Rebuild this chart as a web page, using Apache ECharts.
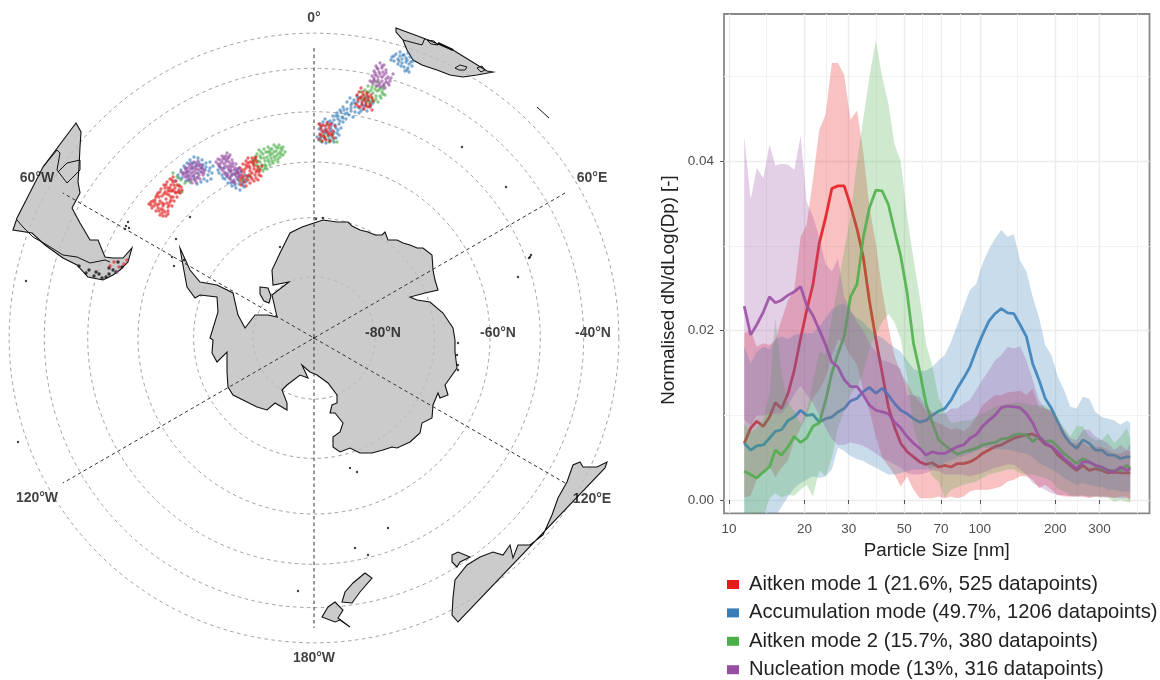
<!DOCTYPE html>
<html><head><meta charset="utf-8">
<style>html,body{margin:0;padding:0;background:#fff}#c{width:1160px;height:680px}</style>
<script src="https://cdn.jsdelivr.net/npm/echarts@6/dist/echarts.min.js"></script>
</head><body><div id="c"></div>
<script>
// ---------- size distribution panel ----------
const sizes=[11.5,12.2,12.9,13.7,14.5,15.3,16.2,17.2,18.2,19.3,20.4,21.6,22.9,24.3,25.7,27.2,28.8,30.5,32.4,34.3,36.3,38.5,40.8,43.2,45.7,48.4,51.3,54.4,57.6,61,64.6,68.5,72.5,76.8,81.4,86.2,91.3,96.7,102.5,108.6,115,121.8,129,136.7,144.8,153.4,162.5,172.1,182.3,193.2,204.6,216.7,229.6,243.2,257.6,272.9,289,306.2,324.4,343.6,364,385.6,398];
const ait1Mean=[.0067,.0085,.0093,.0087,.0098,.0115,.0108,.0126,.0153,.0191,.0224,.0254,.0303,.0334,.0368,.0371,.0371,.0348,.0320,.0287,.0235,.0190,.0150,.0110,.0086,.0067,.0057,.0051,.0045,.0042,.0044,.0039,.0041,.0039,.0043,.0043,.0045,.0049,.0055,.0059,.0063,.0065,.0069,.0073,.0075,.0077,.0078,.0073,.0066,.0063,.0053,.0047,.0041,.0035,.0041,.0035,.0037,.0035,.0032,.0033,.0032,.0032,.0032];
const ait1Hi=[.0197,.0201,.0181,.0185,.0183,.0189,.0213,.0236,.0248,.0311,.0325,.0378,.0437,.0456,.0516,.0516,.0502,.0449,.0460,.0411,.0346,.0303,.0248,.0205,.0170,.0150,.0138,.0124,.0116,.0106,.0094,.0091,.0087,.0083,.0085,.0081,.0087,.0098,.0112,.0118,.0124,.0124,.0127,.0128,.0129,.0124,.0132,.0110,.0108,.0106,.0087,.0079,.0067,.0067,.0067,.0063,.0063,.0063,.0059,.0055,.0055,.0059,.0057];
const ait1Lo=[.0003,.0005,.0024,.0032,.0040,.0027,.0038,.0047,.0070,.0085,.0100,.0120,.0130,.0145,.0170,.0190,.0185,.0170,.0160,.0130,.0105,.0075,.0050,.0040,.0030,.0016,.0028,.0012,.0002,.0002,.0002,.0004,.0002,.0004,.0002,.0004,.0010,.0012,.0012,.0012,.0014,.0016,.0022,.0024,.0028,.0028,.0024,.0014,.0018,.0012,.0006,.0004,.0004,.0004,.0004,.0002,.0004,.0004,.0004,.0002,.0004,.0004,-.0002];
const accMean=[.0067,.0059,.0064,.0065,.0073,.0081,.0083,.0094,.0098,.0106,.0100,.0101,.0092,.0096,.0098,.0104,.0108,.0117,.0120,.0128,.0133,.0126,.0132,.0124,.0114,.0106,.0102,.0096,.0092,.0094,.0100,.0105,.0108,.0118,.0132,.0144,.0157,.0177,.0195,.0211,.0220,.0226,.0221,.0220,.0207,.0193,.0161,.0142,.0120,.0108,.0092,.0077,.0067,.0061,.0071,.0067,.0059,.0059,.0053,.0053,.0049,.0051,.0051];
const accHi=[.0181,.0161,.0175,.0181,.0178,.0190,.0193,.0190,.0195,.0197,.0197,.0197,.0205,.0215,.0225,.0230,.0232,.0222,.0215,.0210,.0202,.0195,.0192,.0185,.0180,.0175,.0165,.0155,.0152,.0153,.0157,.0165,.0171,.0187,.0207,.0228,.0248,.0255,.0279,.0296,.0309,.0319,.0311,.0314,.0283,.0270,.0240,.0216,.0183,.0171,.0146,.0130,.0110,.0108,.0122,.0120,.0104,.0098,.0096,.0094,.0089,.0094,.0091];
const accLo=[-.0045,-.0040,-.0035,-.0030,-.0025,-.0020,-.0008,.0004,.0014,.0020,.0024,.0028,.0026,.0028,.0036,.0062,.0058,.0052,.0048,.0046,.0042,.0038,.0034,.0030,.0030,.0032,.0034,.0036,.0036,.0036,.0038,.0040,.0044,.0047,.0050,.0052,.0055,.0058,.0062,.0062,.0060,.0060,.0060,.0058,.0056,.0055,.0050,.0044,.0040,.0036,.0032,.0026,.0022,.0018,.0020,.0018,.0016,.0016,.0012,.0012,.0010,.0010,.0010];
const ait2Mean=[.0034,.0030,.0026,.0033,.0039,.0059,.0053,.0063,.0075,.0068,.0073,.0087,.0091,.0118,.0150,.0173,.0193,.0240,.0255,.0310,.0345,.0366,.0365,.0349,.0318,.0288,.0245,.0185,.0152,.0114,.0092,.0071,.0065,.0059,.0054,.0057,.0059,.0061,.0065,.0067,.0068,.0072,.0073,.0077,.0078,.0077,.0069,.0075,.0069,.0070,.0063,.0055,.0049,.0043,.0049,.0045,.0041,.0037,.0035,.0035,.0035,.0041,.0037];
const ait2Hi=[.0090,.0080,.0085,.0095,.0125,.0215,.0150,.0115,.0105,.0090,.0105,.0140,.0175,.0172,.0215,.0255,.0295,.0335,.0400,.0450,.0500,.0543,.0500,.0468,.0420,.0400,.0335,.0285,.0240,.0185,.0159,.0122,.0104,.0091,.0092,.0094,.0094,.0098,.0102,.0106,.0110,.0112,.0114,.0115,.0115,.0114,.0112,.0112,.0112,.0105,.0098,.0085,.0075,.0087,.0087,.0075,.0071,.0071,.0079,.0067,.0075,.0085,.0073];
const ait2Lo=[-.0050,-.0045,-.0035,-.0020,.0002,.0008,.0003,.0006,.0005,.0012,.0018,.0004,.0035,.0028,.0050,.0085,.0105,.0125,.0135,.0150,.0180,.0195,.0210,.0220,.0210,.0190,.0145,.0085,.0064,.0045,.0028,.0022,.0003,.0012,.0015,.0018,.0020,.0022,.0026,.0030,.0032,.0034,.0036,.0036,.0032,.0030,.0030,.0028,.0026,.0022,.0014,.0010,.0006,.0005,.0006,.0004,.0004,.0004,.0003,-.0002,.0000,-.0002,-.0003];
const nucMean=[.0229,.0195,.0207,.0222,.0240,.0233,.0236,.0242,.0246,.0252,.0230,.0218,.0201,.0183,.0163,.0157,.0142,.0134,.0134,.0124,.0112,.0106,.0104,.0102,.0092,.0085,.0075,.0067,.0061,.0053,.0057,.0055,.0055,.0059,.0063,.0065,.0073,.0077,.0087,.0094,.0100,.0109,.0111,.0110,.0109,.0102,.0091,.0075,.0067,.0063,.0057,.0049,.0043,.0037,.0045,.0045,.0041,.0039,.0035,.0033,.0039,.0035,.0037];
const nucHi=[.0430,.0355,.0392,.0380,.0420,.0395,.0397,.0396,.0390,.0430,.0352,.0335,.0310,.0278,.0270,.0285,.0240,.0225,.0210,.0200,.0185,.0175,.0165,.0163,.0160,.0155,.0124,.0124,.0122,.0110,.0104,.0102,.0102,.0108,.0108,.0114,.0118,.0130,.0142,.0153,.0165,.0171,.0181,.0179,.0182,.0165,.0142,.0118,.0108,.0104,.0094,.0083,.0073,.0071,.0083,.0083,.0075,.0071,.0067,.0059,.0065,.0059,.0067];
const nucLo=[.0095,.0088,.0100,.0100,.0102,.0102,.0102,.0112,.0125,.0135,.0125,.0115,.0100,.0085,.0072,.0065,.0065,.0068,.0066,.0064,.0060,.0055,.0050,.0046,.0042,.0038,.0032,.0030,.0030,.0032,.0035,.0034,.0030,.0030,.0030,.0030,.0028,.0030,.0032,.0035,.0038,.0040,.0042,.0042,.0036,.0030,.0020,.0016,.0012,.0008,.0006,.0006,.0004,.0004,.0004,.0004,.0004,.0003,.0003,.0003,.0002,.0002,.0002];
const modeNames=['Aitken mode 1 (21.6%, 525 datapoints)','Accumulation mode (49.7%, 1206 datapoints)','Aitken mode 2 (15.7%, 380 datapoints)','Nucleation mode (13%, 316 datapoints)'];
const modeColors=['#E41A1C','#377EB8','#4DAF4A','#984EA3'];
const xTicks=[10,20,30,50,70,100,200,300];
const xMinor=[14.1,24.5,38.7,59,83.7,141,245,424];
const yTicks=[0,.02,.04];
const yMinor=[.01,.03,.05];

// ---------- map panel (projected map units, pole at origin, north of pole = towards 0 deg) ----------
const earthR=352;
const ringLats=[-80,-70,-60,-50,-40,-30];
const meridianLons=[0,60,120];
const meridianLen=290;
const antarctica=[[0,115],[9,118],[23,116],[34,116],[38,112],[46,108],[54,106],[61,103],[68,103],[71,106],[74,98],[83,98],[89,95],[96,93],[103,90],[109,90],[118,83],[119,68],[121,58],[124,48],[111,45],[96,41],[103,38],[116,36],[129,25],[139,10],[141,-2],[141,-14],[143,-30],[136,-40],[131,-47],[134,-57],[126,-60],[124,-55],[119,-67],[118,-80],[108,-85],[106,-95],[96,-104],[83,-110],[78,-109],[69,-112],[58,-115],[46,-115],[36,-110],[26,-114],[19,-109],[19,-99],[26,-94],[29,-85],[21,-75],[16,-75],[18,-67],[23,-65],[23,-57],[14,-45],[3,-37],[-4,-34],[-12,-27],[-6,-40],[-14,-37],[-27,-47],[-32,-52],[-27,-65],[-27,-72],[-39,-65],[-47,-72],[-57,-69],[-71,-62],[-81,-57],[-86,-49],[-87,-34],[-87,-14],[-97,-24],[-102,-15],[-101,-2],[-104,0],[-96,26],[-97,41],[-114,43],[-119,40],[-127,51],[-132,78],[-134,90],[-124,68],[-114,56],[-97,53],[-81,45],[-76,23],[-69,10],[-59,23],[-46,23],[-37,21],[-42,43],[-25,56],[-41,53],[-42,68],[-34,85],[-24,105],[-12,111]];
const berkner=[[-54,51],[-46,50],[-43,42],[-45,35],[-50,37],[-54,44]];
const southAmerica=[[-238,215],[-233,206],[-234,191],[-235,171],[-236,156],[-234,145],[-242,130],[-234,115],[-231,110],[-224,98],[-216,98],[-209,81],[-201,80],[-191,80],[-182,90],[-186,76],[-194,68],[-201,63],[-211,58],[-226,61],[-237,73],[-251,80],[-269,93],[-282,105],[-301,108],[-297,120],[-271,171]];
const africa=[[82,310],[109,300],[139,288],[173,267],[179,266],[163,263],[149,261],[136,263],[123,268],[108,273],[99,278],[93,288],[89,298],[82,306]];
const australia=[[144,-284],[138,-277],[139,-260],[141,-242],[153,-227],[166,-219],[179,-214],[189,-217],[196,-207],[199,-220],[204,-207],[216,-207],[229,-197],[238,-177],[244,-160],[253,-144],[259,-127],[266,-124],[269,-129],[283,-129],[293,-124],[291,-130]];
const tasmania=[[138,-217],[144,-214],[156,-219],[146,-224],[143,-229],[138,-224]];
const nzSouth=[[51,-235],[58,-240],[46,-254],[38,-265],[28,-264],[31,-254],[39,-245]];
const nzNorth=[[21,-264],[29,-272],[24,-280],[36,-289],[26,-282],[21,-284],[8,-279],[14,-269]];
const lakeA=[[141,270],[146,273],[153,271],[151,268],[145,268],[141,270]];
const lakeB=[[163,270],[168,272],[171,268],[167,266],[163,270]];
const lakeC=[[113,298],[120,297],[124,293],[117,294],[113,298]];
const borderA=[[-297,118],[-291,111],[-281,101],[-267,93],[-251,83],[-237,81],[-224,75],[-209,78],[-204,76]];
const borderB=[[-271,171],[-257,188],[-254,185],[-257,168],[-247,155],[-234,168],[-234,178],[-247,175],[-256,166]];
const borderC=[[89,298],[108,293],[111,300]];
const riftLine=[[124,295],[139,288]];
const kerguelen=[[223,231],[235,220]];
const smallIslands=[[-124,121],[-138,99],[-142,81],[-34,91],[-288,57],[148,191],[192,151],[216,81],[204,61],[-296,-104],[-16,-253],[36,-130],[43,-134],[74,-190],[41,-210],[54,-217],[144,-5],[143,-17],[144,-27],[144,-32],[-188,112],[-186,116],[-189,109],[-185,110],[215,80],[217,83],[0,0],[2,119],[9,120],[-140,72],[-130,78]];
const fuegoIslands=[[-235,72],[-228,65],[-220,62],[-212,60],[-205,64],[-198,66],[-192,71],[-196,76],[-205,70],[-215,64],[-225,68],[-218,66],[-208,61],[-201,68]];
const ptsAccum=[[-139,157],[-136,163],[-133,168],[-130,172],[-127,175],[-124,178],[-120,181],[-116,180],[-112,178],[-108,175],[-104,170],[-102,165],[-106,163],[-110,159],[-113,156],[-117,154],[-104,176],[-101,172],[-112,170],[-118,172],[-122,170],[-127,166],[-132,160],[-120,161],[-125,158],[-116,165],[-109,168],[-128,157],[-103,159],[-107,157],[-96,168],[-92,163],[-89,159],[-86,155],[-82,152],[-78,150],[-74,148],[-70,151],[-72,155],[-76,158],[-80,156],[-84,160],[-88,165],[-84,167],[-79,164],[-75,162],[-71,159],[-68,156],[-94,171],[-90,170],[-73,166],[-69,163],[-77,169],[-66,161],[5,198],[8,196],[12,195],[16,197],[20,196],[6,203],[10,201],[14,203],[18,201],[22,200],[25,203],[5,209],[8,207],[12,209],[16,207],[20,206],[24,208],[27,210],[6,214],[9,216],[13,213],[17,212],[21,213],[25,214],[29,216],[11,219],[16,217],[20,218],[24,219],[28,221],[32,219],[19,222],[23,225],[27,226],[31,224],[35,223],[39,221],[29,231],[33,229],[37,227],[41,226],[45,225],[26,228],[33,236],[37,233],[41,231],[45,230],[49,229],[53,227],[36,240],[40,238],[44,236],[48,234],[52,233],[56,231],[59,235],[43,242],[47,240],[51,238],[55,237],[78,281],[82,284],[86,286],[90,283],[94,285],[80,277],[84,279],[88,279],[92,280],[96,281],[99,277],[84,274],[88,275],[92,276],[95,274],[90,271],[94,270],[98,272],[91,267],[95,266],[77,278],[86,282],[-135,160],[-131,165],[-126,162],[-121,175],[-115,175],[-108,171],[-105,167],[-111,173],[-123,175],[-128,170],[3,201],[7,200],[11,205],[15,199],[19,204],[23,205],[7,211],[12,206],[17,209],[22,210],[26,217],[18,215],[22,222],[14,216],[29,220],[33,225],[37,230],[41,235],[47,227],[50,232],[38,235],[30,228],[44,240],[53,241],[57,233],[24,222],[80,282],[85,277],[89,283],[93,278],[97,276],[87,272],[93,268],[-95,165],[-91,160],[-87,162],[-83,155],[-79,153],[-75,154],[-71,153],[-82,163],[-77,166],[-70,157]];
const ptsAit2=[[-61,178],[-58,173],[-55,169],[-51,167],[-47,169],[-59,181],[-56,177],[-52,173],[-48,172],[-44,173],[-57,184],[-53,180],[-49,177],[-45,176],[-41,175],[-55,188],[-51,184],[-47,181],[-43,180],[-39,178],[-36,176],[-50,189],[-46,186],[-42,184],[-38,182],[-34,181],[-31,183],[-29,186],[-46,191],[-42,189],[-38,187],[-34,186],[-40,193],[-35,193],[-31,191],[-36,190],[-32,188],[-54,176],[-44,186],[-49,173],[-137,161],[-133,158],[-129,155],[-124,156],[-135,153],[-141,165],[-134,146],[-132,146],[-72,158],[-64,162],[7,197],[11,199],[15,196],[19,198],[23,196],[9,203],[14,202],[18,203],[48,238],[52,236],[56,235],[60,237],[64,236],[50,243],[54,241],[58,240],[62,242],[67,240],[71,243],[47,246],[51,248],[55,246],[59,245],[63,247],[68,246],[54,252],[58,251],[62,252],[66,250],[70,252],[60,257],[64,256],[-60,175],[-56,172],[-53,170],[-49,170],[-58,178],[-54,182],[-50,180],[-46,178],[-42,177],[-53,186],[-48,186],[-44,183],[-40,181],[-36,179],[-44,189],[-40,186],[-36,184],[-33,184],[-38,191],[-33,190],[50,240],[54,238],[58,237],[62,239],[66,242],[69,244],[53,246],[57,248],[61,249],[65,248],[69,249]];
const ptsAit1=[[-165,134],[-162,130],[-158,127],[-154,123],[-151,122],[-161,137],[-157,133],[-153,129],[-149,126],[-146,127],[-158,141],[-154,137],[-150,134],[-146,131],[-142,132],[-156,145],[-152,142],[-148,139],[-144,136],[-140,137],[-153,149],[-149,146],[-145,143],[-141,141],[-137,141],[-150,153],[-146,150],[-142,147],[-138,145],[-134,145],[-147,156],[-143,153],[-139,150],[-135,148],[-132,148],[-144,159],[-141,156],[-137,153],[-133,151],[-141,161],[-163,133],[-155,127],[-159,135],[-151,132],[-147,135],[-155,141],[-143,141],[-149,150],[-139,146],[-144,147],[-152,135],[-147,144],[-135,152],[-138,157],[-146,124],[-76,165],[-73,160],[-70,156],[-73,153],[-68,152],[-64,155],[-60,157],[-56,158],[-53,162],[-74,170],[-70,166],[-67,162],[-63,161],[-59,163],[-55,166],[-71,174],[-67,171],[-64,167],[-60,169],[-56,171],[-54,168],[-68,177],[-64,176],[-61,174],[-57,176],[-62,180],[-58,181],[-66,180],[-72,163],[-66,158],[-62,165],[-69,169],[-58,166],[-52,172],[-65,172],[-60,177],[-204,72],[-200,76],[-195,71],[-190,74],[-187,78],[5,199],[8,197],[12,198],[16,197],[20,200],[6,204],[10,202],[14,205],[18,203],[7,209],[11,208],[15,210],[19,207],[21,212],[5,214],[9,213],[13,215],[17,214],[42,234],[46,231],[50,229],[54,231],[58,228],[44,238],[48,236],[52,235],[56,234],[59,237],[43,243],[47,241],[51,240],[55,241],[45,246],[49,246],[53,245],[57,243],[47,250],[-163,136],[-160,132],[-156,130],[-152,125],[-148,122],[-159,138],[-155,134],[-151,128],[-145,133],[-150,144],[-146,147],[-141,148],[-136,146],[-148,153],[-144,150],[-140,153],[-142,158],[-157,143],[-154,146],[-143,138],[-74,157],[-71,161],[-68,159],[-65,163],[-62,159],[-58,160],[-55,163],[-72,168],[-68,173],[-64,170],[-60,172],[-57,168],[-66,175],[-62,176],[-59,179],[7,202],[11,200],[15,203],[9,206],[13,207],[17,205],[11,212],[15,213],[7,212],[44,232],[48,233],[52,232],[56,232],[46,240],[50,238],[54,238],[58,240],[49,243],[53,243]];
const ptsNuc=[[-133,166],[-129,170],[-125,174],[-120,176],[-116,177],[-112,173],[-110,168],[-111,163],[-114,159],[-118,156],[-122,155],[-126,158],[-129,161],[-127,166],[-123,169],[-119,171],[-115,168],[-118,165],[-122,162],[-125,163],[-120,159],[-115,163],[-124,172],[-113,170],[-130,165],[-117,173],[-121,166],[-117,160],[-128,168],[-112,166],[-126,170],[-123,158],[-119,168],[-114,173],[-98,176],[-95,172],[-92,168],[-89,164],[-85,160],[-81,156],[-96,179],[-92,176],[-88,172],[-85,168],[-81,164],[-77,160],[-92,182],[-89,179],[-85,176],[-81,172],[-78,167],[-74,163],[-87,185],[-84,183],[-82,178],[-78,174],[-75,170],[-90,170],[-86,164],[-83,158],[-79,155],[-94,174],[-88,182],[-80,168],[-76,165],[-73,167],[-83,174],[-86,180],[-91,179],[-83,168],[-78,162],[62,272],[66,275],[70,273],[60,267],[64,269],[68,270],[72,268],[58,262],[62,263],[66,264],[70,263],[74,261],[77,260],[79,264],[56,257],[60,258],[64,258],[68,257],[72,256],[75,253],[63,252],[67,251],[71,250],[59,254],[76,257],[-197,66],[-131,163],[-128,164],[-125,167],[-122,173],[-118,175],[-115,172],[-112,170],[-113,166],[-116,161],[-120,163],[-123,165],[-119,158],[-124,160],[-127,161],[-110,165],[-117,169],[-121,170],[-96,174],[-93,170],[-90,166],[-87,162],[-83,162],[-80,158],[-94,178],[-90,174],[-86,170],[-83,166],[-79,164],[-75,161],[-90,181],[-87,178],[-83,171],[-79,170],[-76,168],[-85,172],[-88,176],[-85,181],[-81,175],[63,270],[68,272],[61,265],[65,266],[69,266],[72,265],[60,260],[64,261],[68,261],[72,259],[58,256],[62,256],[66,255],[70,254],[74,255],[65,253],[69,252]];
const mapLabels=[['0°',0,320],['60°E',278,160],['120°E',278,-161],['180°W',0,-320],['120°W',-277,-160],['60°W',-277,160],['-80°N',69,5],['-60°N',184,5],['-40°N',279,5]];

const FONT='Liberation Sans';
const landPolys=[antarctica,berkner,southAmerica,africa,australia,tasmania,nzSouth,nzNorth];
const linePolys=[lakeA,lakeB,lakeC,borderA,borderB,borderC,kerguelen];

function zip(xs,ys){return xs.map((x,i)=>[x,ys[i]]);}
function bandSeries(lo,hi,color,z){
  return {type:'custom',coordinateSystem:'cartesian2d',xAxisIndex:0,yAxisIndex:0,z,silent:true,clip:true,
    data:[[sizes[0],hi[0]]],
    renderItem(p,api){
      const top=sizes.map((s,i)=>api.coord([s,hi[i]]));
      const bot=sizes.map((s,i)=>api.coord([s,lo[i]])).reverse();
      return {type:'polygon',shape:{points:top.concat(bot)},style:{fill:color,opacity:.27}};
    }};
}
function meanSeries(name,mean,color,z){
  return {type:'line',name,xAxisIndex:0,yAxisIndex:0,z,silent:true,showSymbol:false,data:zip(sizes,mean),
    lineStyle:{color,width:2.8,opacity:.88},itemStyle:{color},clip:true};
}
function ptsSeries(pts,color,z){
  return {type:'scatter',xAxisIndex:1,yAxisIndex:1,z,silent:true,symbolSize:3.4,data:pts,
    itemStyle:{color,opacity:.65},clip:false};
}
const mapAxis={xAxisIndex:1,yAxisIndex:1,coordinateSystem:'cartesian2d',silent:true};
const series=[
  bandSeries(ait1Lo,ait1Hi,modeColors[0],2),meanSeries(modeNames[0],ait1Mean,modeColors[0],3),
  bandSeries(accLo,accHi,modeColors[1],4),meanSeries(modeNames[1],accMean,modeColors[1],5),
  bandSeries(ait2Lo,ait2Hi,modeColors[2],6),meanSeries(modeNames[2],ait2Mean,modeColors[2],7),
  bandSeries(nucLo,nucHi,modeColors[3],8),meanSeries(modeNames[3],nucMean,modeColors[3],9),
  Object.assign({type:'custom',z:2,clip:false,data:ringLats.map(l=>[0,l]),
    renderItem(p,api){
      const lat=ringLats[p.dataIndex],c=api.coord([0,0]),
        r=api.size([earthR*Math.cos(lat*Math.PI/180),0])[0];
      return {type:'circle',shape:{cx:c[0],cy:c[1],r},style:{fill:'none',stroke:'#A0A0A0',lineWidth:1,lineDash:[3.5,3.5]}};
    }},mapAxis),
  Object.assign({type:'custom',z:3,clip:false,data:landPolys.map(p=>p[0]),
    renderItem(p,api){
      return {type:'polygon',shape:{points:landPolys[p.dataIndex].map(q=>api.coord(q))},
        style:{fill:'rgba(190,190,190,.8)',stroke:'#111',lineWidth:1.1}};
    }},mapAxis),
  Object.assign({type:'custom',z:4,clip:false,data:linePolys.map(p=>p[0]),
    renderItem(p,api){
      return {type:'polyline',shape:{points:linePolys[p.dataIndex].map(q=>api.coord(q))},
        style:{fill:'none',stroke:'#111',lineWidth:1}};
    }},mapAxis),
  Object.assign({type:'custom',z:4,clip:false,data:[riftLine[0]],
    renderItem(p,api){
      return {type:'polyline',shape:{points:riftLine.map(q=>api.coord(q))},style:{fill:'none',stroke:'#111',lineWidth:2}};
    }},mapAxis),
  {type:'scatter',xAxisIndex:1,yAxisIndex:1,z:4,silent:true,symbolSize:2.4,data:smallIslands,itemStyle:{color:'#111'}},
  {type:'scatter',xAxisIndex:1,yAxisIndex:1,z:4,silent:true,symbolSize:3.4,data:fuegoIslands,itemStyle:{color:'#111'}},
  Object.assign({type:'custom',z:5,clip:false,data:meridianLons.map(l=>[0,l]),
    renderItem(p,api){
      const a=meridianLons[p.dataIndex]*Math.PI/180,dx=meridianLen*Math.sin(a),dy=meridianLen*Math.cos(a);
      const s=api.coord([dx,dy]),e=api.coord([-dx,-dy]);
      return {type:'line',shape:{x1:s[0],y1:s[1],x2:e[0],y2:e[1]},style:{stroke:'#333',lineWidth:1,lineDash:[3.5,3]}};
    }},mapAxis),
  ptsSeries(ptsAccum,modeColors[1],6),ptsSeries(ptsAit2,modeColors[2],7),ptsSeries(ptsAit1,modeColors[0],8),ptsSeries(ptsNuc,modeColors[3],9),
  {type:'scatter',xAxisIndex:1,yAxisIndex:1,z:10,silent:true,symbolSize:0,
    data:mapLabels.map(l=>({name:l[0],value:[l[1],l[2]]})),
    label:{show:true,position:'inside',formatter:'{b}',color:'#111',fontFamily:FONT,fontWeight:'bold',fontSize:14}}
];
const tickStyle={color:'#4D4D4D',fontFamily:FONT,fontSize:13.5};
const option={
  animation:false,backgroundColor:'#fff',
  legend:{data:modeNames,orient:'vertical',left:727,top:574.5,itemWidth:12,itemHeight:9,itemGap:8.4,icon:'rect',
    textStyle:{color:'#222',fontFamily:FONT,fontSize:20.2,padding:[0,0,0,5]},selectedMode:false,padding:0},
  graphic:[{type:'text',x:669,y:290,rotation:Math.PI/2,
    style:{text:'Normalised dN/dLog(Dp) [-]',fill:'#222',font:'18.8px "Liberation Sans"',textAlign:'center',textVerticalAlign:'middle'}}],
  grid:[
    {left:724,top:14,width:425.5,height:499.3,show:true,borderColor:'#888',borderWidth:1.8,backgroundColor:'transparent',containLabel:false},
    {left:0,top:0,width:640,height:680,show:false}
  ],
  xAxis:[
    {type:'log',gridIndex:0,min:9.55,max:475,logBase:10,name:'Particle Size [nm]',nameLocation:'middle',nameGap:27,
      nameTextStyle:{fontFamily:FONT,fontSize:18.8,color:'#222'},
      axisLine:{show:false},axisTick:{customValues:xTicks,length:4,lineStyle:{color:'#555'}},
      axisLabel:{customValues:xTicks,...tickStyle,margin:9,showMinLabel:true,showMaxLabel:true,formatter:v=>String(Math.round(v))},
      splitLine:{show:true,lineStyle:{color:'#ECECEC',width:1.4}},minorTick:{show:false},minorSplitLine:{show:false}},
    {type:'value',gridIndex:1,min:-314,max:326,show:false},
    {type:'log',gridIndex:0,min:9.55,max:475,logBase:10,axisLine:{show:false},axisTick:{show:false,customValues:xMinor},
      axisLabel:{show:false,customValues:xMinor},splitLine:{show:true,lineStyle:{color:'#F2F2F2',width:1}}}
  ],
  yAxis:[
    {type:'value',gridIndex:0,min:-0.00157,max:.0574,
      axisLine:{show:false},axisTick:{customValues:yTicks,length:4,lineStyle:{color:'#555'}},
      axisLabel:{customValues:yTicks,...tickStyle,margin:10,formatter:v=>v.toFixed(2)},
      splitLine:{show:true,lineStyle:{color:'#ECECEC',width:1.4}}},
    {type:'value',gridIndex:1,min:-342,max:338,show:false},
    {type:'value',gridIndex:0,min:-0.00157,max:.0574,axisLine:{show:false},axisTick:{show:false,customValues:yMinor},
      axisLabel:{show:false,customValues:yMinor},splitLine:{show:true,lineStyle:{color:'#F3F3F3',width:1}}}
  ],
  series
};
echarts.init(document.getElementById('c'),null,{renderer:'canvas'}).setOption(option);
</script></body></html>
